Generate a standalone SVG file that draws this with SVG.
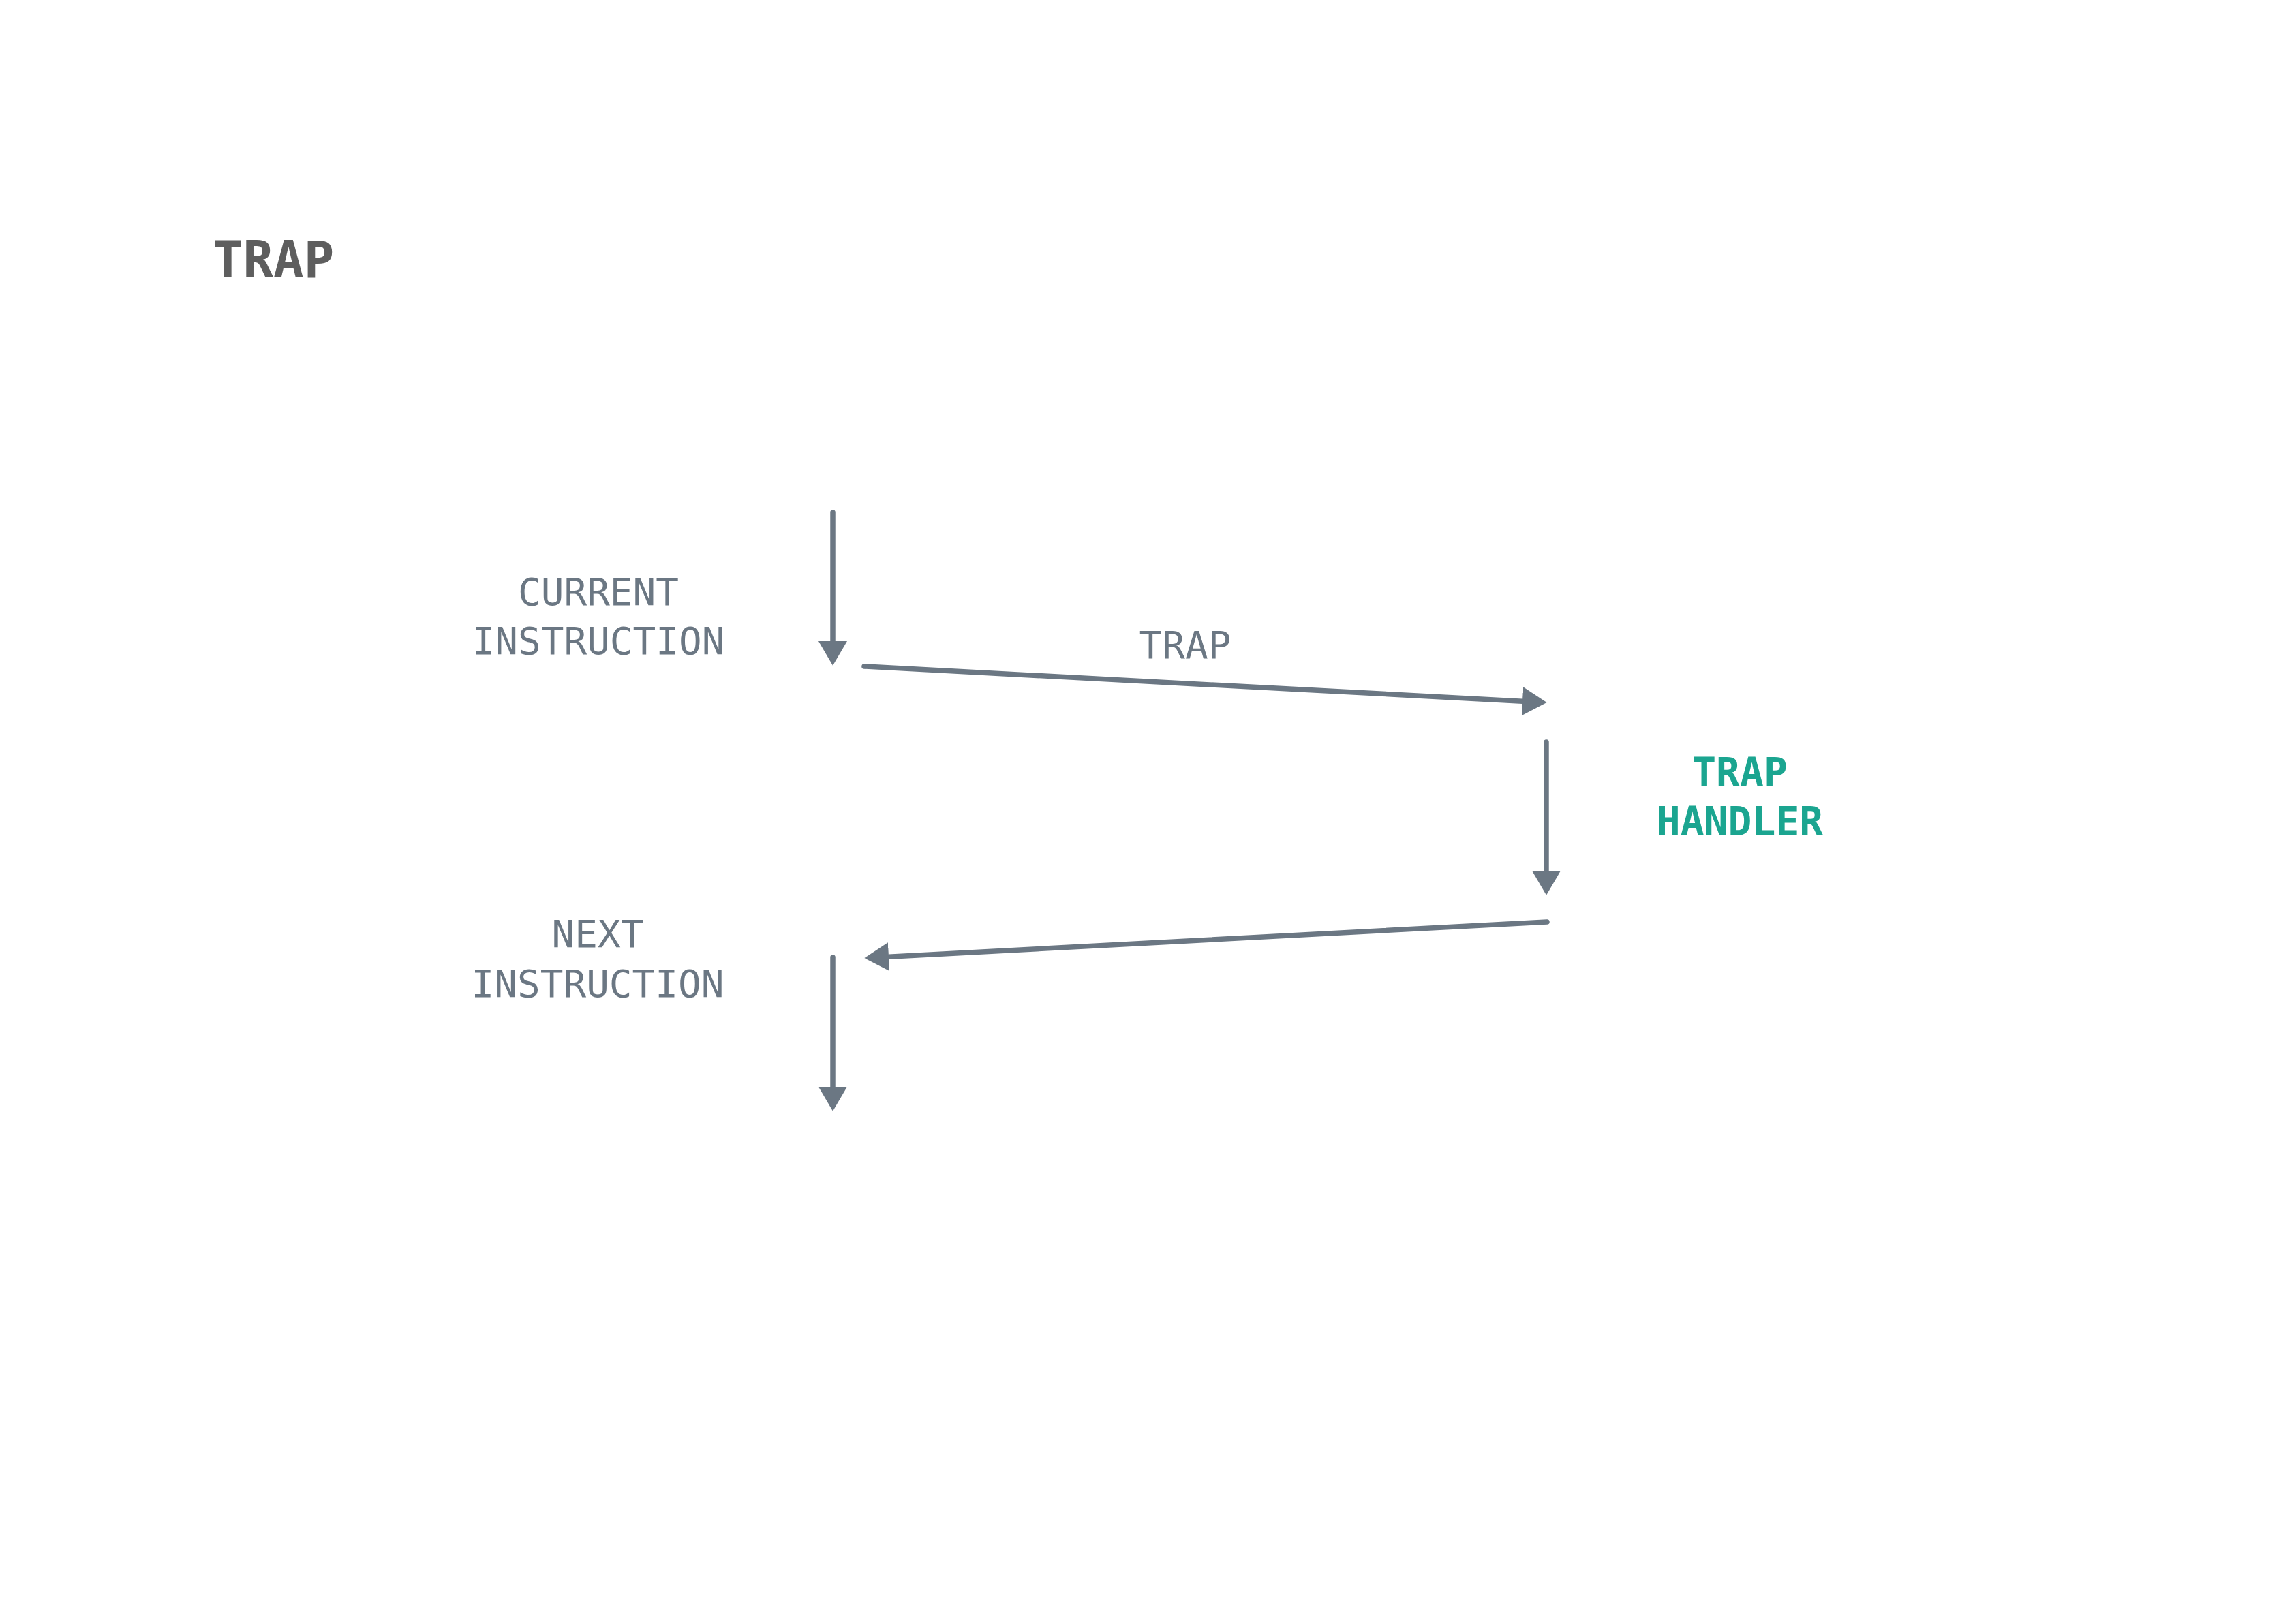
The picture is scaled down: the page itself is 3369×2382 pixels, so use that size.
<svg xmlns="http://www.w3.org/2000/svg" width="3369" height="2382" viewBox="0 0 3369 2382">
  <style>
    .lbl { font-family: "DejaVu Sans Mono", "Liberation Mono", monospace; font-size: 56px; fill: #6b7783; text-anchor: middle; }
    .hl { font-family: "DejaVu Sans Mono", "Liberation Mono", monospace; font-size: 58px; font-weight: bold; fill: #1ba590; text-anchor: middle; }
    .title { font-family: "DejaVu Sans Mono", "Liberation Mono", monospace; font-size: 74px; font-weight: bold; fill: #5e5e5e; }
    .conn { stroke: #6b7783; stroke-width: 7.5; stroke-linecap: round; fill: none; marker-end: url(#ah); }
  </style>
  <defs>
    <marker id="ah" markerUnits="userSpaceOnUse" markerWidth="36" markerHeight="42" refX="0" refY="20" orient="auto" viewBox="0 0 34 40">
      <path d="M0,0 L34,20 L0,40 Z" fill="#6b7783"/>
    </marker>
  </defs>
  <rect width="3369" height="2382" fill="#ffffff"/>
  <text class="title" x="312" y="407">TRAP</text>
  <g id="current-instruction">
    <text class="lbl" x="878" y="888">CURRENT</text>
    <text class="lbl" x="878" y="960">INSTRUCTION</text>
  </g>
  <g id="trap-handler">
    <text class="hl" x="2553" y="1154">TRAP</text>
    <text class="hl" x="2553" y="1226">HANDLER</text>
  </g>
  <g id="next-instruction">
    <text class="lbl" x="877" y="1390">NEXT</text>
    <text class="lbl" x="877" y="1463">INSTRUCTION</text>
  </g>
  <g id="connectors">
    <line class="conn" x1="1222" y1="752" x2="1222" y2="941"/>
    <line class="conn" x1="1268" y1="978" x2="2234" y2="1029.2"/>
    <text class="lbl" x="1739" y="966">TRAP</text>
    <line class="conn" x1="2269" y1="1089" x2="2269" y2="1278"/>
    <line class="conn" x1="2270" y1="1353" x2="1304" y2="1404.2"/>
    <line class="conn" x1="1222" y1="1405" x2="1222" y2="1595"/>
  </g>
</svg>
